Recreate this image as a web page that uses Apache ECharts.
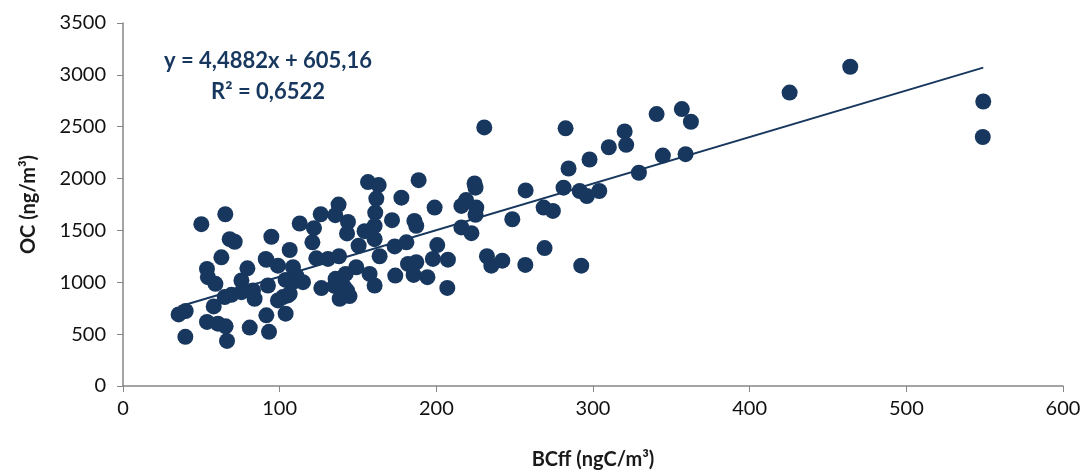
<!DOCTYPE html>
<html>
<head>
<meta charset="utf-8">
<script src="https://cdn.jsdelivr.net/npm/echarts@6/dist/echarts.min.js"></script>
<style>
  html, body { margin: 0; padding: 0; background: #fff; }
  #scatterChart { width: 1086px; height: 475px; }
</style>
</head>
<body>
<div id="scatterChart"></div>
<script>
// BCff (ngC/m3) values
var bcff = [
  425.5, 464.2, 549.1, 548.8,
  230.6, 282.5, 188.7, 177.7, 198.9, 216, 219, 224.4, 225, 225.5, 225, 216, 222.4,
  186, 187.2, 248.5, 257, 268.5, 274.4, 281.2, 284.4, 291.5, 296.1, 304, 297.8,
  310.1, 320.2, 321.2, 329.3, 340.6, 344.6, 356.7, 359.1, 362.5,
  232.3, 235.1, 242.1, 256.8, 269.1, 292.5,
  156.4, 163.2, 161.7, 137.6, 126.2, 135.5, 112.8, 121.9, 143.6, 143, 161, 160.6,
  154.2, 171.7, 94.7, 106.4, 120.9, 91.5, 98.9, 108.5, 123.4, 130.8, 137.9, 150.4,
  160.6, 163.8, 173.4, 180.9, 200.6, 197.8, 207.4, 181.9, 187.2, 185.5, 173.8, 194.3,
  207, 160.6, 148.9, 157.4, 142.1, 135.7, 126.6, 138.3, 144.6, 105.3, 98.9, 103.8,
  92.5, 91.5, 93.2, 114.9,
  50, 65.3, 68.1, 71.3, 62.8, 53.6, 54.2, 59, 35.5, 40, 57.9, 53.6, 60.6, 65.5,
  39.8, 66.4, 80.9, 79.4, 75.6, 64.9, 69.2, 75.6, 84, 83, 91.1, 102.1, 106.4, 108.5,
  141, 135, 143, 110.7, 103.8
];

// OC (ng/m3) values, same order
var oc = [
  2829, 3078, 2743, 2401,
  2493, 2484, 1985, 1816, 1720, 1736, 1793, 1953, 1912, 1720, 1650, 1529, 1474,
  1592, 1544, 1608, 1886, 1720, 1688, 1912, 2097, 1880, 1832, 1880, 2184,
  2302, 2455, 2325, 2056, 2622, 2222, 2670, 2235, 2548,
  1251, 1160, 1208, 1167, 1330, 1160,
  1966, 1937, 1807, 1749, 1656, 1647, 1567, 1522, 1582, 1471, 1672, 1544,
  1493, 1599, 1439, 1311, 1385, 1217, 1160, 1145, 1231, 1225, 1251, 1352,
  1416, 1251, 1346, 1385, 1359, 1225, 1218, 1177, 1193, 1071, 1065, 1049,
  946, 969, 1145, 1081, 1081, 1033, 944, 841, 867, 873, 825, 697,
  969, 681, 522, 1001,
  1560, 1656, 1416, 1391, 1241, 1129, 1049, 985, 690, 723, 767, 618, 601, 575,
  474, 435, 563, 1135, 1017, 857, 879, 905, 841, 921, 1225, 857, 889, 1001,
  957, 965, 920, 1062, 1023
];

// trend line from the chart's equation
var slope = 4.4882;
var intercept = 605.16;
var eqLines = ['y = 4,4882x + 605,16', 'R² = 0,6522'];

var xTicks = [0, 100, 200, 300, 400, 500, 600];
var yTicks = [0, 500, 1000, 1500, 2000, 2500, 3000, 3500];

var points = bcff.map(function (x, i) { return [x, oc[i]]; });
var xMin = Math.min.apply(null, bcff);
var xMax = Math.max.apply(null, bcff);
var trend = [[xMin, slope * xMin + intercept], [xMax, slope * xMax + intercept]];

var chartDom = document.getElementById('scatterChart');
var chart = echarts.init(chartDom);
var navy = '#17375E';
var font = 'Lato, "Open Sans", sans-serif';

var option = {
  animation: false,
  grid: { left: 123, right: 23, top: 23, bottom: 87 },
  xAxis: {
    type: 'value',
    min: xTicks[0],
    max: xTicks[xTicks.length - 1],
    interval: 100,
    name: 'BCff (ngC/m³)',
    nameLocation: 'middle',
    nameGap: 64,
    nameTextStyle: { fontFamily: font, fontWeight: 'bold', fontSize: 20, color: '#1a1a1a' },
    axisLine: { lineStyle: { color: '#868686', width: 1.5 } },
    axisTick: { show: true, length: 6, lineStyle: { color: '#868686' } },
    axisLabel: { fontFamily: font, fontSize: 20, color: '#111', margin: 13,
      formatter: function (v) { return String(v); } },
    splitLine: { show: false }
  },
  yAxis: {
    type: 'value',
    min: yTicks[0],
    max: yTicks[yTicks.length - 1],
    interval: 500,
    name: 'OC (ng/m³)',
    nameLocation: 'middle',
    nameGap: 84,
    nameRotate: 90,
    nameTextStyle: { fontFamily: font, fontWeight: 'bold', fontSize: 20, color: '#1a1a1a' },
    axisLine: { show: true, lineStyle: { color: '#868686', width: 1.5 } },
    axisTick: { show: true, length: 6, lineStyle: { color: '#868686' } },
    axisLabel: { fontFamily: font, fontSize: 20, color: '#111', margin: 17,
      formatter: function (v) { return String(v); } },
    splitLine: { show: false }
  },
  graphic: eqLines.map(function (t, i) {
    return {
      type: 'text',
      x: 268,
      y: 61 + i * 31,
      style: {
        text: t,
        font: 'bold 22px ' + font,
        fill: navy,
        textAlign: 'center',
        textVerticalAlign: 'middle'
      }
    };
  }),
  series: [
    {
      type: 'line',
      data: trend,
      symbol: 'none',
      lineStyle: { color: navy, width: 2 },
      z: 3
    },
    {
      type: 'scatter',
      data: points,
      symbolSize: 16,
      itemStyle: { color: navy, opacity: 1 },
      z: 2
    }
  ]
};

chart.setOption(option);
</script>
</body>
</html>
